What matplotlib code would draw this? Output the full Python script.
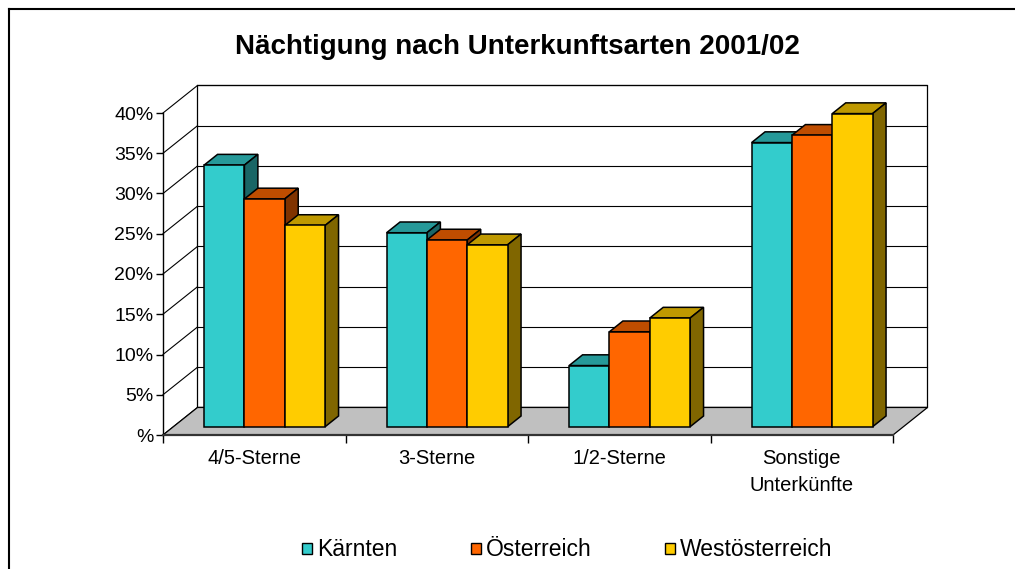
"""Nächtigung nach Unterkunftsarten 2001/02 -- Excel-style 3D clustered bars."""
import matplotlib
matplotlib.use("Agg")
import matplotlib.pyplot as plt
from matplotlib.colors import to_rgb
from matplotlib.lines import Line2D
from matplotlib.patches import Patch, Polygon

plt.rcParams["font.family"] = ["Liberation Sans", "DejaVu Sans"]

TITLE = "Nächtigung nach Unterkunftsarten 2001/02"
CATEGORIES = ["4/5-Sterne", "3-Sterne", "1/2-Sterne", "Sonstige\nUnterkünfte"]
SERIES = ["Kärnten", "Österreich", "Westösterreich"]
KAERNTEN = [32.5, 24.1, 7.6, 35.3]
OESTERREICH = [28.3, 23.2, 11.8, 36.2]
WESTOESTERREICH = [25.0, 22.6, 13.5, 38.9]
YTICKS = [0, 5, 10, 15, 20, 25, 30, 35, 40]
YTICKLABELS = ["%", "5%", "10%", "15%", "20%", "25%", "30%", "35%", "40%"]
COLORS = ["#33CCCC", "#FF6600", "#FFCC00"]

# oblique projection: full floor depth in data units (x in categories, y in %)
DX, DY = 0.189, 3.42
F0, F1 = 0.30, 0.69          # bar front / back depth as fraction of floor depth
GROUP = 0.663                # width of a bar cluster inside one category


def shade(c, k):
    r, g, b = to_rgb(c)
    return (r * k, g * k, b * k)


def poly(ax, pts, fc, ec="black", lw=1.1, z=2):
    ax.add_patch(Polygon(pts, closed=True, facecolor=fc, edgecolor=ec,
                         linewidth=lw, clip_on=False, zorder=z, joinstyle="miter"))


fig = plt.figure(figsize=(10.15, 5.69), dpi=100)
ax = fig.add_axes([163 / 1015, 134 / 569, 730 / 1015, 322 / 569])
ax.patch.set_visible(False)
n = len(CATEGORIES)
top = YTICKS[-1]
ax.set_xlim(0, n)
ax.set_ylim(0, top)

# walls and floor
poly(ax, [(0, 0), (n, 0), (n + DX, DY), (DX, DY)], "#C0C0C0", lw=0.9, z=1)
poly(ax, [(DX, DY), (n + DX, DY), (n + DX, DY + top), (DX, DY + top)], "white", lw=0.9, z=0.5)
for v in YTICKS:
    ax.plot([0, DX], [v, v + DY], color="black", lw=0.8, clip_on=False, zorder=0.8)
    ax.plot([DX, n + DX], [v + DY, v + DY], color="black", lw=0.8, clip_on=False, zorder=0.8)

# bars, left to right so the next front face hides the previous side
values = [KAERNTEN, OESTERREICH, WESTOESTERREICH]
w = GROUP / len(SERIES)
d = F1 - F0
for i in range(n):
    for j, vals in enumerate(values):
        xl = i + (1 - GROUP) / 2 + j * w + F0 * DX
        xr = xl + w
        yb = F0 * DY
        yt = yb + vals[i]
        c = COLORS[j]
        poly(ax, [(xl, yt), (xr, yt), (xr + d * DX, yt + d * DY), (xl + d * DX, yt + d * DY)],
             shade(c, 0.75), z=3)
        poly(ax, [(xr, yb), (xr + d * DX, yb + d * DY), (xr + d * DX, yt + d * DY), (xr, yt)],
             shade(c, 0.5), z=3)
        poly(ax, [(xl, yb), (xr, yb), (xr, yt), (xl, yt)], c, z=3)

# axes
for s in ["top", "right"]:
    ax.spines[s].set_visible(False)
ax.spines["left"].set_linewidth(1.0)
ax.spines["bottom"].set_linewidth(1.6)
ax.spines["bottom"].set_color("#333333")
ax.set_yticks(YTICKS)
ax.set_yticklabels(YTICKLABELS, fontsize=14)
ax.tick_params(axis="y", length=5, pad=2, width=1.0)
ax.set_xticks(range(n + 1))
ax.set_xticklabels([])
ax.set_xticks([i + 0.5 for i in range(n)], minor=True)
ax.set_xticklabels(CATEGORIES, minor=True, fontsize=14.5, linespacing=1.55)
ax.tick_params(axis="x", which="major", length=6, width=1.0)
ax.tick_params(axis="x", which="minor", length=0, pad=10)

fig.text(517 / 1015, 1 - 47 / 569, TITLE, ha="center", va="center",
         fontsize=20, fontweight="bold")

handles = [Patch(facecolor=c, edgecolor="black", linewidth=1.0) for c in COLORS]
fig.legend(handles, SERIES, loc="center", bbox_to_anchor=(567 / 1015, 1 - 550 / 569),
           ncol=3, frameon=False, fontsize=16.5, handlelength=0.45, handleheight=0.4,
           handletextpad=0.2, columnspacing=3.2, borderpad=0.2)

# chart border (runs off the right and bottom of the image)
fig.add_artist(Line2D([8.5 / 1015, 8.5 / 1015], [0, 1 - 8.5 / 569], color="black", lw=1.5))
fig.add_artist(Line2D([8.5 / 1015, 1], [1 - 8.5 / 569, 1 - 8.5 / 569], color="black", lw=1.5))

fig.savefig("out.png", dpi=100)
